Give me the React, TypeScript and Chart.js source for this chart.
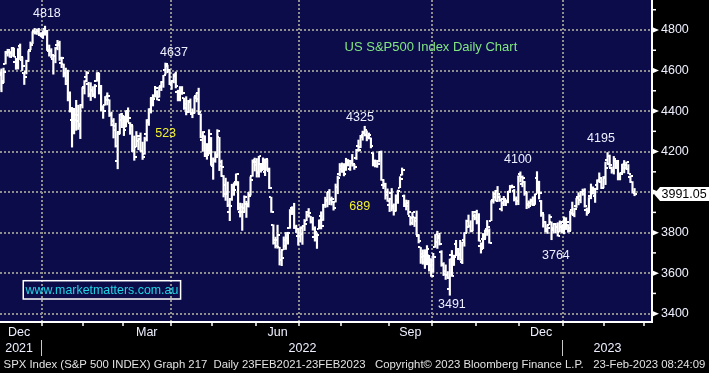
import React, { useEffect, useRef } from "react";
import { Chart, registerables } from "chart.js";

Chart.register(...registerables);

// ---------------- data ----------------
// trading months on the axis (Dec 2021 .. Mar 2023) and their trading-day counts
const monthNames = ["Dec", "Jan", "Feb", "Mar", "Apr", "May", "Jun", "Jul", "Aug", "Sep", "Oct", "Nov", "Dec", "Jan", "Feb", "Mar"];
const monthTradingDays = [22, 20, 19, 23, 20, 21, 21, 20, 23, 21, 21, 21, 21, 20, 19];
const labeledMonthIndex = [0, 3, 6, 9, 12];
const quarterMonths = ["Jan", "Apr", "Jul", "Oct"];
const yearLabels = ["2021", "2022", "2023"];
const yearFirstMonth = [0, 1, 13];
const yTickValues = [3400, 3600, 3800, 4000, 4200, 4400, 4600, 4800];
const yMinorTickValues = [3500, 3700, 3900, 4100, 4300, 4500, 4700, 4900];

// daily OHLC, 1 Dec 2021 .. 22 Feb 2023
const opens = [
  4602, 4504, 4589, 4548, 4632, 4690, 4691, 4688, 4711, 4642, 4637, 4719, 4652, 4587, 4594, 4645, 4703, 4733, 4795, 4788, 4795, 4776,
  4778, 4804, 4788, 4694, 4697, 4655, 4670, 4728, 4734, 4637, 4632, 4588, 4548, 4471, 4357, 4367, 4380, 4381, 4337, 4432,
  4519, 4566, 4535, 4482, 4505, 4480, 4547, 4553, 4506, 4413, 4429, 4456, 4456, 4385, 4332, 4324, 4155, 4298, 4354,
  4364, 4322, 4401, 4342, 4327, 4203, 4223, 4253, 4279, 4203, 4188, 4289, 4345, 4407, 4462, 4469, 4494, 4470, 4523, 4542, 4602, 4624, 4599,
  4540, 4547, 4573, 4494, 4475, 4495, 4462, 4437, 4394, 4449, 4385, 4390, 4473, 4490, 4385, 4255, 4278, 4187, 4223, 4253,
  4130, 4159, 4181, 4270, 4129, 4081, 4034, 3991, 3903, 3964, 4014, 4052, 4052, 3900, 3927, 3920, 3943, 3930, 3985, 4078, 4151,
  4150, 4096, 4137, 4135, 4097, 4148, 4102, 3975, 3838, 3764, 3764, 3728, 3666, 3716, 3733, 3774, 3821, 3920, 3913, 3826, 3785,
  3782, 3792, 3831, 3859, 3889, 3880, 3851, 3776, 3763, 3818, 3883, 3860, 3935, 3955, 3999, 3966, 3953, 3951, 4026, 4087,
  4113, 4105, 4107, 4155, 4116, 4155, 4133, 4170, 4227, 4225, 4270, 4290, 4281, 4273, 4267, 4195, 4133, 4127, 4154, 4199, 4034, 4041, 4000,
  3937, 3994, 3930, 3909, 3959, 4022, 4084, 3982, 3940, 3932, 3880, 3849, 3875, 3871, 3782, 3727, 3682, 3687, 3652, 3688, 3633,
  3609, 3727, 3754, 3772, 3706, 3647, 3595, 3590, 3520, 3690, 3638, 3746, 3703, 3689, 3657, 3763, 3799, 3826, 3834, 3809, 3881,
  3901, 3853, 3733, 3767, 3780, 3817, 3810, 3859, 3963, 3977, 4007, 3976, 3919, 3967, 3956, 3956, 4000, 4024, 4005, 3964, 3957,
  4087, 4041, 4052, 3996, 3937, 3947, 3954, 3940, 4070, 4016, 3958, 3891, 3853, 3810, 3839, 3853, 3815, 3843, 3829, 3805, 3830,
  3853, 3840, 3840, 3823, 3910, 3888, 3932, 3977, 3960, 3999, 4003, 3911, 3909, 3979, 4002, 3982, 4036, 4053, 4050, 4021,
  4070, 4158, 4137, 4119, 4106, 4154, 4144, 4069, 4096, 4118, 4119, 4114, 4073, 4052, 4001,
];
const highs = [
  4652, 4595, 4608, 4612, 4695, 4705, 4695, 4713, 4711, 4660, 4708, 4731, 4666, 4588, 4651, 4697, 4741, 4792, 4808, 4805, 4808, 4787,
  4797, 4819, 4798, 4726, 4708, 4674, 4714, 4749, 4745, 4666, 4632, 4612, 4602, 4495, 4418, 4411, 4453, 4429, 4432, 4516,
  4550, 4595, 4542, 4540, 4521, 4531, 4590, 4588, 4527, 4427, 4472, 4490, 4456, 4395, 4363, 4340, 4295, 4385, 4389,
  4375, 4401, 4416, 4343, 4328, 4277, 4299, 4268, 4292, 4247, 4271, 4358, 4412, 4465, 4481, 4522, 4501, 4520, 4546, 4576, 4637, 4627, 4604,
  4546, 4583, 4593, 4503, 4521, 4521, 4464, 4471, 4453, 4460, 4411, 4471, 4488, 4513, 4386, 4299, 4278, 4240, 4308, 4270,
  4169, 4200, 4308, 4270, 4158, 4082, 4069, 4050, 3964, 4039, 4046, 4090, 4052, 3946, 3944, 3982, 3955, 3999, 4075, 4159, 4168,
  4166, 4177, 4142, 4169, 4164, 4160, 4119, 3975, 3839, 3778, 3837, 3728, 3708, 3779, 3801, 3802, 3914, 3928, 3945, 3837, 3818,
  3829, 3832, 3865, 3905, 3919, 3880, 3876, 3829, 3796, 3863, 3903, 3940, 3975, 3999, 4013, 3976, 3954, 4040, 4079, 4141,
  4144, 4141, 4167, 4161, 4151, 4186, 4137, 4211, 4257, 4280, 4301, 4325, 4302, 4292, 4267, 4195, 4159, 4157, 4200, 4203, 4062, 4044, 4016,
  3970, 4018, 3942, 3987, 4010, 4076, 4119, 3986, 3961, 3959, 3880, 3900, 3877, 3907, 3790, 3727, 3715, 3716, 3736, 3688, 3672,
  3698, 3791, 3807, 3797, 3711, 3652, 3641, 3608, 3670, 3712, 3689, 3762, 3720, 3762, 3753, 3800, 3862, 3887, 3859, 3905, 3893,
  3911, 3894, 3750, 3796, 3813, 3860, 3819, 3958, 4001, 4009, 4028, 3983, 3954, 3979, 3962, 4004, 4033, 4035, 4013, 3977, 4080,
  4100, 4080, 4053, 4001, 3957, 3966, 3977, 3991, 4101, 4054, 3959, 3891, 3855, 3839, 3889, 3853, 3845, 3846, 3849, 3858, 3840,
  3878, 3874, 3840, 3906, 3951, 3921, 3970, 3997, 4003, 4015, 4017, 3922, 3973, 4040, 4026, 4019, 4061, 4095, 4064, 4077,
  4148, 4195, 4183, 4124, 4176, 4157, 4157, 4095, 4138, 4156, 4148, 4136, 4081, 4052, 4018,
];
const lows = [
  4510, 4504, 4495, 4540, 4632, 4671, 4665, 4670, 4667, 4606, 4607, 4654, 4600, 4531, 4583, 4645, 4703, 4733, 4780, 4778, 4775, 4766,
  4758, 4774, 4699, 4671, 4663, 4582, 4638, 4702, 4650, 4614, 4568, 4530, 4450, 4395, 4222, 4287, 4305, 4309, 4264, 4415,
  4484, 4544, 4470, 4452, 4471, 4465, 4547, 4484, 4402, 4364, 4429, 4430, 4373, 4327, 4267, 4222, 4115, 4287, 4318,
  4279, 4322, 4345, 4285, 4199, 4157, 4223, 4209, 4202, 4161, 4187, 4252, 4329, 4390, 4425, 4469, 4455, 4468, 4501, 4517, 4582, 4589, 4530,
  4507, 4539, 4514, 4450, 4450, 4482, 4408, 4381, 4392, 4392, 4367, 4390, 4445, 4385, 4268, 4201, 4175, 4162, 4188, 4132,
  4063, 4147, 4177, 4106, 4077, 3976, 3959, 3928, 3859, 3959, 3984, 4033, 3912, 3877, 3811, 3901, 3875, 3926, 3985, 4078, 4104,
  4074, 4074, 4098, 4109, 4081, 4107, 4017, 3900, 3743, 3724, 3723, 3640, 3637, 3716, 3717, 3743, 3821, 3889, 3820, 3800, 3738,
  3753, 3742, 3810, 3859, 3876, 3847, 3812, 3758, 3722, 3818, 3818, 3860, 3924, 3927, 3938, 3936, 3911, 3951, 3992, 4080,
  4097, 4080, 4107, 4129, 4107, 4128, 4112, 4161, 4201, 4219, 4256, 4277, 4253, 4262, 4218, 4129, 4124, 4122, 4148, 4058, 4017, 3965, 3954,
  3904, 3907, 3886, 3906, 3944, 4022, 4084, 3928, 3912, 3889, 3837, 3839, 3830, 3789, 3749, 3648, 3644, 3623, 3641, 3610, 3584,
  3604, 3727, 3722, 3739, 3634, 3588, 3569, 3573, 3491, 3584, 3638, 3686, 3667, 3664, 3647, 3733, 3799, 3825, 3803, 3808, 3863,
  3843, 3758, 3699, 3721, 3772, 3786, 3748, 3859, 3945, 3956, 3954, 3954, 3907, 3933, 3933, 3947, 3998, 4020, 3956, 3937, 3938,
  4050, 4026, 3984, 3918, 3922, 3936, 3933, 3939, 3994, 3966, 3880, 3827, 3803, 3796, 3839, 3765, 3798, 3798, 3783, 3805, 3800,
  3794, 3815, 3802, 3810, 3888, 3878, 3924, 3937, 3947, 3984, 3926, 3885, 3899, 3967, 3990, 3949, 4013, 4049, 4017, 4021,
  4037, 4141, 4123, 4093, 4089, 4116, 4060, 4060, 4093, 4095, 4113, 4091, 4047, 3995, 3982,
];
const closes = [
  4513, 4577, 4538, 4592, 4686, 4701, 4667, 4712, 4669, 4635, 4709, 4669, 4621, 4568, 4649, 4697, 4726, 4792, 4786, 4793, 4778, 4766,
  4797, 4794, 4701, 4696, 4677, 4670, 4713, 4726, 4660, 4663, 4577, 4533, 4483, 4398, 4410, 4356, 4350, 4327, 4432, 4516,
  4546, 4589, 4478, 4501, 4484, 4522, 4587, 4504, 4419, 4401, 4472, 4475, 4380, 4349, 4305, 4226, 4288, 4385, 4374,
  4306, 4387, 4364, 4329, 4201, 4171, 4278, 4260, 4204, 4173, 4262, 4358, 4412, 4463, 4461, 4512, 4456, 4520, 4543, 4576, 4632, 4602, 4531,
  4546, 4583, 4525, 4481, 4500, 4488, 4413, 4397, 4447, 4392, 4392, 4462, 4459, 4394, 4272, 4297, 4176, 4183, 4288, 4132,
  4155, 4175, 4300, 4147, 4123, 3991, 4001, 3935, 3930, 4024, 4008, 4089, 3924, 3901, 3901, 3974, 3941, 3979, 4058, 4158, 4132,
  4101, 4177, 4109, 4121, 4161, 4116, 4018, 3901, 3750, 3735, 3790, 3667, 3675, 3765, 3760, 3796, 3912, 3901, 3821, 3819, 3785,
  3825, 3831, 3845, 3903, 3899, 3855, 3819, 3801, 3790, 3863, 3831, 3937, 3959, 3999, 3962, 3967, 3921, 4024, 4072, 4130,
  4119, 4091, 4155, 4152, 4145, 4140, 4122, 4210, 4207, 4280, 4297, 4305, 4275, 4284, 4228, 4138, 4128, 4141, 4200, 4058, 4031, 3986, 3955,
  3967, 3924, 3908, 3980, 4006, 4067, 4110, 3932, 3946, 3901, 3873, 3900, 3856, 3790, 3758, 3693, 3655, 3647, 3719, 3640, 3586,
  3678, 3791, 3783, 3745, 3640, 3612, 3589, 3577, 3669, 3584, 3678, 3720, 3696, 3666, 3753, 3797, 3859, 3831, 3808, 3901, 3872,
  3856, 3760, 3720, 3771, 3807, 3828, 3749, 3956, 3993, 3957, 3992, 3959, 3947, 3965, 3950, 4003, 4027, 4026, 3964, 3958, 4080,
  4076, 4072, 3999, 3941, 3933, 3963, 3934, 3991, 4019, 3996, 3896, 3852, 3818, 3821, 3878, 3822, 3845, 3829, 3783, 3849, 3840,
  3825, 3853, 3808, 3895, 3893, 3919, 3970, 3983, 3999, 3991, 3929, 3899, 3973, 4020, 4017, 4016, 4060, 4071, 4018, 4077,
  4119, 4180, 4136, 4111, 4164, 4118, 4081, 4090, 4137, 4136, 4148, 4090, 4079, 3998, 3991.05,
];

// annotation texts (positions in bar-index / index-value units)
const noteTexts = ["4818", "4637", "4325", "4100", "4195", "3764", "3491"];
const noteX = [23.9, 85.1, 174.7, 250.8, 290.8, 269.1, 219.0];
const noteY = [4879, 4690, 4366, 4159, 4263, 3689, 3446];
const moveTexts = ["523", "689"];
const moveX = [81.1, 174.6];
const moveY = [4287, 3931];
const chartHeading = "US S&P500 Index Daily Chart";
const websiteText = "www.marketmatters.com.au";
const footerText =
  "SPX Index (S&P 500 INDEX) Graph 217  Daily 23FEB2021-23FEB2023   Copyright\u00A9 2023 Bloomberg Finance L.P.   23-Feb-2023 08:24:09";

// ---------------- styling ----------------
const FONT = "'Liberation Sans', Arial, Helvetica, sans-serif";
const NAVY = "#0d0c4a";
const GRID = "#8e8e8e";
const TEXT = "#eef0ff";
const X_MIN = 1.3;
const X_MAX = 315.4;
const Y_MIN = 3359;
const Y_MAX = 4948;

// month boundaries in bar-index units
const bounds: number[] = [-0.5];
monthTradingDays.forEach((d) => bounds.push(bounds[bounds.length - 1] + d));
const monthTickValues = bounds.filter((v) => v > X_MIN && v < X_MAX);
const quarterValues = new Set(bounds.filter((v, k) => quarterMonths.includes(monthNames[k])));
const monthLabelValues = labeledMonthIndex.map((k) => (bounds[k] + bounds[k + 1]) / 2);
const monthLabelTexts = labeledMonthIndex.map((k) => monthNames[k]);
const yearSeparators = yearFirstMonth.slice(1).map((k) => bounds[k]);
const yearCenters = yearFirstMonth.map((k, j) => {
  const start = bounds[k];
  const end = j + 1 < yearFirstMonth.length ? bounds[yearFirstMonth[j + 1]] : X_MAX;
  return (start + end) / 2;
});
const yearTicks = [
  ...yearCenters.map((v, j) => ({ value: v, text: yearLabels[j] })),
  ...yearSeparators.map((v) => ({ value: v, text: "" })),
].sort((a, b) => a.value - b.value);
const sepSet = new Set(yearSeparators);

const zeroPadding = (s: any) => {
  s.paddingTop = 0;
  s.paddingBottom = 0;
  s.paddingLeft = 0;
  s.paddingRight = 0;
};

const overlayPlugin = {
  id: "overlay",
  beforeDraw(chart: any) {
    const { ctx, chartArea: a, width, height } = chart;
    ctx.save();
    ctx.fillStyle = "#000";
    ctx.fillRect(0, 0, width, height);
    ctx.fillStyle = NAVY;
    ctx.fillRect(a.left, a.top, a.right - a.left, a.bottom - a.top);
    ctx.restore();
  },
  afterDatasetsDraw(chart: any) {
    const { ctx } = chart;
    const xs = chart.scales.x;
    const ys = chart.scales.y;
    ctx.save();
    ctx.textAlign = "center";
    ctx.textBaseline = "middle";
    ctx.font = `12.5px ${FONT}`;
    ctx.fillStyle = TEXT;
    noteTexts.forEach((t, i) => {
      ctx.fillText(t, xs.getPixelForValue(noteX[i]), ys.getPixelForValue(noteY[i]));
    });
    ctx.fillStyle = "#f2f230";
    moveTexts.forEach((t, i) => {
      ctx.fillText(t, xs.getPixelForValue(moveX[i]), ys.getPixelForValue(moveY[i]));
    });
    // heading
    ctx.font = `13px ${FONT}`;
    ctx.textAlign = "left";
    ctx.fillStyle = "#82e682";
    ctx.fillText(chartHeading, xs.getPixelForValue(167.3), ys.getPixelForValue(4716));
    // website box
    const bx0 = xs.getPixelForValue(12.5);
    const bx1 = xs.getPixelForValue(88.3);
    const by0 = ys.getPixelForValue(3562.7);
    const by1 = ys.getPixelForValue(3472.5);
    ctx.strokeStyle = "#ffffff";
    ctx.lineWidth = 1.5;
    ctx.strokeRect(bx0, by0, bx1 - bx0, by1 - by0);
    ctx.font = `12.4px ${FONT}`;
    ctx.textAlign = "center";
    ctx.fillStyle = "#20d6e6";
    ctx.fillText(websiteText, (bx0 + bx1) / 2, (by0 + by1) / 2 + 0.5);
    ctx.restore();
  },
  afterDraw(chart: any) {
    const { ctx, width } = chart;
    const ys = chart.scales.y;
    const ax = ys.left;
    ctx.save();
    ctx.fillStyle = "#ffffff";
    yTickValues.forEach((v) => {
      const py = ys.getPixelForValue(v);
      ctx.beginPath();
      ctx.moveTo(ax, py - 3);
      ctx.lineTo(ax, py + 3);
      ctx.lineTo(ax + 7, py);
      ctx.closePath();
      ctx.fill();
    });
    yMinorTickValues.forEach((v) => {
      if (v < Y_MIN || v > Y_MAX) return;
      const py = ys.getPixelForValue(v);
      ctx.fillRect(ax, py - 0.75, 4, 1.5);
    });
    // last price tag
    const last = closes[closes.length - 1];
    const py = ys.getPixelForValue(last);
    ctx.beginPath();
    ctx.moveTo(ax + 2, py);
    ctx.lineTo(ax + 8, py - 7);
    ctx.lineTo(width, py - 7);
    ctx.lineTo(width, py + 7);
    ctx.lineTo(ax + 8, py + 7);
    ctx.closePath();
    ctx.fill();
    ctx.fillStyle = "#000";
    ctx.font = `12.5px ${FONT}`;
    ctx.textAlign = "left";
    ctx.textBaseline = "middle";
    ctx.fillText(last.toFixed(2), ax + 9.5, py + 0.5);
    ctx.restore();
  },
};

export default function App() {
  const ref = useRef<HTMLCanvasElement>(null);
  useEffect(() => {
    document.body.style.margin = "0";
    document.body.style.background = "#000";
    const openImg = document.createElement("canvas");
    openImg.width = 5;
    openImg.height = 2;
    const g1 = openImg.getContext("2d") as CanvasRenderingContext2D;
    g1.fillStyle = "#ffffff";
    g1.fillRect(0, 0, 2, 2);
    const closeImg = document.createElement("canvas");
    closeImg.width = 5;
    closeImg.height = 2;
    const g2 = closeImg.getContext("2d") as CanvasRenderingContext2D;
    g2.fillStyle = "#ffffff";
    g2.fillRect(3, 0, 2, 2);

    const rangeData = highs.map((h, i) => ({ x: i, y: [lows[i], h] }));
    const openData = opens.map((o, i) => ({ x: i, y: o }));
    const closeData = closes.map((c, i) => ({ x: i, y: c }));

    const chart = new Chart(ref.current as HTMLCanvasElement, {
      type: "bar",
      data: {
        datasets: [
          {
            type: "bar",
            data: rangeData as any,
            backgroundColor: "#ffffff",
            borderWidth: 0,
            barThickness: 1.5,
            grouped: false,
            xAxisID: "x",
            yAxisID: "y",
          } as any,
          {
            type: "scatter",
            data: openData,
            pointStyle: openImg,
            pointRadius: 2,
            xAxisID: "x",
            yAxisID: "y",
          } as any,
          {
            type: "scatter",
            data: closeData,
            pointStyle: closeImg,
            pointRadius: 2,
            xAxisID: "x",
            yAxisID: "y",
          } as any,
        ],
      },
      options: {
        animation: false,
        responsive: true,
        maintainAspectRatio: false,
        events: [],
        layout: { padding: 0, autoPadding: false } as any,
        plugins: {
          legend: { display: false },
          tooltip: { enabled: false },
          title: {
            display: true,
            position: "bottom",
            align: "center",
            text: footerText,
            color: "#e2e2e2",
            font: { family: FONT, size: 11.35, weight: "normal", lineHeight: 14 / 11.35 },
            padding: { top: 1, bottom: 1 },
          },
        },
        scales: {
          x: {
            type: "linear",
            position: "bottom",
            min: X_MIN,
            max: X_MAX,
            offset: false,
            weight: 0,
            afterBuildTicks: (s: any) => {
              s.ticks = monthTickValues.map((v) => ({ value: v }));
            },
            ticks: { display: false, autoSkip: false },
            grid: {
              offset: false,
              color: (c: any) => (c.tick && quarterValues.has(c.tick.value) ? GRID : "rgba(0,0,0,0)"),
              lineWidth: 2,
              drawTicks: true,
              tickLength: 4,
              tickColor: "#ffffff",
              tickWidth: 1.5,
            },
            border: { display: true, color: "#ffffff", width: 2, dash: [2, 2] },
            afterFit: (s: any) => {
              s.height = 4;
              zeroPadding(s);
            },
          } as any,
          xm: {
            type: "linear",
            position: "bottom",
            min: X_MIN,
            max: X_MAX,
            offset: false,
            weight: 1,
            afterBuildTicks: (s: any) => {
              s.ticks = monthLabelValues.map((v) => ({ value: v }));
            },
            ticks: {
              autoSkip: false,
              maxRotation: 0,
              color: TEXT,
              padding: -1,
              font: { family: FONT, size: 12.5 },
              callback: (_v: any, i: number) => monthLabelTexts[i],
            },
            grid: { display: false, drawTicks: false, offset: false },
            border: { display: false },
            afterFit: (s: any) => {
              s.height = 14;
              zeroPadding(s);
            },
          } as any,
          xy: {
            type: "linear",
            position: "bottom",
            min: X_MIN,
            max: X_MAX,
            offset: false,
            weight: 2,
            afterBuildTicks: (s: any) => {
              s.ticks = yearTicks.map((t) => ({ value: t.value }));
            },
            ticks: {
              autoSkip: false,
              maxRotation: 0,
              color: TEXT,
              padding: -15,
              font: { family: FONT, size: 12.5 },
              callback: (_v: any, i: number) => yearTicks[i].text,
            },
            grid: {
              display: true,
              offset: false,
              drawOnChartArea: false,
              drawTicks: true,
              tickLength: 16,
              color: "rgba(0,0,0,0)",
              tickColor: (c: any) => (c.tick && sepSet.has(c.tick.value) ? "#c8c8c8" : "rgba(0,0,0,0)"),
              tickWidth: 1,
            },
            border: { display: false },
            afterFit: (s: any) => {
              s.height = 17;
              zeroPadding(s);
            },
          } as any,
          y: {
            type: "linear",
            position: "right",
            min: Y_MIN,
            max: Y_MAX,
            afterBuildTicks: (s: any) => {
              s.ticks = yTickValues.map((v) => ({ value: v }));
            },
            ticks: {
              autoSkip: false,
              color: TEXT,
              padding: 9,
              font: { family: FONT, size: 12.5 },
              callback: (v: any) => String(v),
            },
            grid: { color: GRID, lineWidth: 2, drawTicks: false },
            border: { display: true, color: "#ffffff", width: 2, dash: [2, 2] },
            afterFit: (s: any) => {
              s.width = 57;
              zeroPadding(s);
            },
          } as any,
        },
      },
      plugins: [overlayPlugin as any],
    });
    return () => chart.destroy();
  }, []);
  return (
    <div style={{ width: 709, height: 373, position: "relative", background: "#000" }}>
      <canvas ref={ref} />
    </div>
  );
}
